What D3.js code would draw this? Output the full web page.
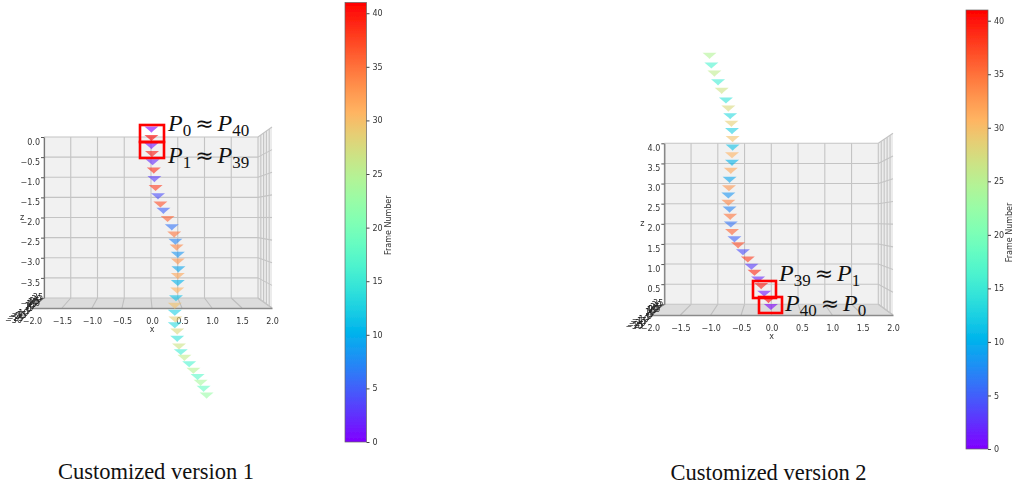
<!DOCTYPE html>
<html>
<head>
<meta charset="utf-8">
<script src="https://cdn.jsdelivr.net/npm/d3@7"></script>
<style>
body{margin:0;background:#fff;}
svg{display:block;}
text{font-family:"DejaVu Sans",sans-serif;}
.caption{font-family:"Liberation Serif",serif;font-size:22.5px;fill:#111;text-anchor:middle;}
.pLabel{font-family:"Liberation Serif",serif;font-style:italic;font-size:24px;fill:#111;}
.pLabel .op{font-family:"DejaVu Sans",sans-serif;font-style:normal;font-size:22px;}
.pLabel .sub{font-style:normal;font-size:17px;}
</style>
</head>
<body>
<div id="chart"></div>
<script>
// frame numbers and projected x / z of every camera marker
var v1Frames = [0,40,1,39,2,38,3,37,4,36,5,35,6,34,7,33,8,32,9,31,10,30,11,29,12,28,13,27,14,26,15,25,16,24,17,23,18,22];
var v1X = [-0.01,-0.01,-0.01,0,0.01,0.03,0.04,0.06,0.10,0.14,0.19,0.26,0.33,0.37,0.39,0.41,0.43,0.43,0.44,0.43,0.43,0.42,0.40,0.38,0.38,0.39,0.38,0.42,0.42,0.45,0.48,0.54,0.62,0.69,0.76,0.81,0.86,0.91];
var v1Z = [0.19,-0.02,-0.22,-0.42,-0.62,-0.83,-1.04,-1.26,-1.47,-1.67,-1.83,-2.03,-2.24,-2.42,-2.60,-2.74,-2.92,-3.09,-3.28,-3.45,-3.62,-3.81,-4.00,-4.19,-4.36,-4.53,-4.67,-4.83,-5.01,-5.20,-5.34,-5.48,-5.64,-5.80,-5.96,-6.10,-6.25,-6.42];

var v2Frames = [0,40,1,39,2,38,3,37,4,36,5,35,6,34,7,33,8,32,9,31,10,30,11,29,12,28,13,27,14,26,15,25,16,24];
var v2X = [-0.01,-0.05,-0.12,-0.17,-0.22,-0.28,-0.33,-0.39,-0.47,-0.55,-0.61,-0.65,-0.67,-0.68,-0.69,-0.71,-0.71,-0.70,-0.69,-0.67,-0.65,-0.65,-0.64,-0.64,-0.65,-0.66,-0.68,-0.71,-0.75,-0.82,-0.88,-0.94,-0.99,-1.02];
var v2Z = [-0.06,0.11,0.27,0.46,0.62,0.79,0.94,1.12,1.30,1.47,1.62,1.80,1.99,2.18,2.36,2.53,2.71,2.89,3.10,3.32,3.52,3.71,3.90,4.11,4.31,4.49,4.68,4.87,5.07,5.31,5.52,5.74,5.94,6.18];

var xTicks = [-2,-1.5,-1,-0.5,0,0.5,1,1.5,2];
var v1ZTicks = [0,-0.5,-1,-1.5,-2,-2.5,-3,-3.5,-4];
var v2ZTicks = [4,3.5,3,2.5,2,1.5,1,0.5,0];
var yPileTicks = [35,30,25,20,15,10,5,0,-5,-10,-15,-20,-25,-30];
var barTicks = [0,5,10,15,20,25,30,35,40];

var width = 1013, height = 486;

// matplotlib "rainbow" colormap
function rainbow(t){
    var r = Math.min(1, Math.abs(2 * t - 0.5));
    var g = Math.sin(Math.PI * t);
    var b = Math.cos(Math.PI * t / 2);
    return d3.rgb(r * 255, g * 255, b * 255).formatHex();
}
var color = d3.scaleSequential(rainbow).domain([0, 40]);

var svg = d3.select("#chart").append("svg")
    .attr("width", width)
    .attr("height", height);

var defs = svg.append("defs");
defs.append("filter").attr("id", "soft")
    .attr("x", "-5%").attr("y", "-5%").attr("width", "110%").attr("height", "110%")
    .append("feGaussianBlur").attr("stdDeviation", 0.55);

var grad = defs.append("linearGradient").attr("id", "rainbowBar")
    .attr("x1", 0).attr("x2", 0).attr("y1", 1).attr("y2", 0);
d3.range(0, 1.001, 0.05).forEach(function(t){
    grad.append("stop").attr("offset", t).attr("stop-color", rainbow(t));
});

// flat downward triangle, wider than tall
var markerType = {
    draw: function(context, size){
        var w = Math.sqrt(size);
        context.moveTo(-w / 2, -w * 0.2);
        context.lineTo(w / 2, -w * 0.2);
        context.lineTo(w * 0.12, w * 0.12);
        context.lineTo(0, w * 0.24);
        context.lineTo(-w * 0.12, w * 0.12);
        context.closePath();
    }
};

function drawPanel(cfg){
    var g = svg.append("g").attr("filter", "url(#soft)");

    var xBack = d3.scaleLinear().domain([-2, 2]).range([cfg.left, cfg.right]);
    var xFront = d3.scaleLinear().domain([-2, 2]).range([cfg.frontLeft, cfg.frontRight]);
    var zBack = d3.scaleLinear().domain(cfg.zDomain).range([cfg.bottom, cfg.top]);
    var zSide = d3.scaleLinear().domain(cfg.zDomain).range([cfg.front, cfg.top - 10]);
    var sideX = d3.scaleLinear().domain([0, 1]).range([cfg.right, cfg.frontRight]);

    // back wall, side wall, floor
    g.append("rect")
        .attr("x", cfg.left).attr("y", cfg.top)
        .attr("width", cfg.right - cfg.left).attr("height", cfg.bottom - cfg.top)
        .attr("fill", "#f1f1f1");
    g.append("path")
        .attr("d", d3.line()([[cfg.right, cfg.top], [cfg.frontRight, cfg.top - 10], [cfg.frontRight, cfg.front], [cfg.right, cfg.bottom]]) + "Z")
        .attr("fill", "#ececec");
    g.append("path")
        .attr("d", d3.line()([[cfg.left, cfg.bottom], [cfg.right, cfg.bottom], [cfg.frontRight, cfg.front], [cfg.frontLeft, cfg.front]]) + "Z")
        .attr("fill", "#dcdcdc");

    var grid = g.append("g").attr("stroke", "#c4c4c4").attr("stroke-width", 1.1).attr("fill", "none");
    xTicks.forEach(function(d){
        grid.append("line").attr("x1", xBack(d)).attr("x2", xBack(d)).attr("y1", cfg.top).attr("y2", cfg.bottom);
        grid.append("line").attr("x1", xBack(d)).attr("x2", xFront(d)).attr("y1", cfg.bottom).attr("y2", cfg.front).attr("stroke", "#bdbdbd");
    });
    cfg.zTicks.forEach(function(d){
        grid.append("line").attr("x1", cfg.left).attr("x2", cfg.right).attr("y1", zBack(d)).attr("y2", zBack(d));
        grid.append("line").attr("x1", cfg.right).attr("x2", cfg.frontRight).attr("y1", zBack(d)).attr("y2", zSide(d));
    });
    d3.range(0.2, 1, 0.2).forEach(function(t){
        var sx = sideX(t);
        grid.append("line").attr("x1", sx).attr("x2", sx)
            .attr("y1", cfg.top - 10 * t).attr("y2", cfg.bottom + (cfg.front - cfg.bottom) * t);
    });

    // x axis on the front edge
    var xAxis = g.append("g")
        .attr("transform", "translate(0," + cfg.front + ")")
        .call(d3.axisBottom(xFront).tickValues(xTicks).tickSize(0).tickPadding(10).tickFormat(d3.format(".1f")));
    xAxis.select(".domain").attr("stroke", "#8a8a8a").attr("stroke-width", 1.6);
    xAxis.selectAll("text").style("font-size", "8px").style("font-family", "DejaVu Sans").attr("fill", "#333");

    // z axis on the back wall
    var zAxis = g.append("g")
        .attr("transform", "translate(" + cfg.left + ",0)")
        .call(d3.axisLeft(zBack).tickValues(cfg.zTicks).tickSize(3).tickSizeOuter(0).tickPadding(1).tickFormat(d3.format(".1f")));
    zAxis.select(".domain").attr("stroke", "#777").attr("stroke-width", 1.2);
    zAxis.selectAll("line").attr("stroke", "#555");
    zAxis.selectAll("text").attr("dy", "0.9em").style("font-size", "8px").style("font-family", "DejaVu Sans").attr("fill", "#333");

    // y axis collapses to a diagonal, its labels pile on top of each other
    g.append("line")
        .attr("x1", cfg.left).attr("y1", cfg.bottom)
        .attr("x2", cfg.frontLeft).attr("y2", cfg.front)
        .attr("stroke", "#777");
    var yEndX = d3.scaleLinear().domain([35, -30]).range([cfg.left - 1, cfg.left - 22]);
    var yEndY = d3.scaleLinear().domain([35, -30]).range([cfg.bottom + 2, cfg.bottom + 25]);
    g.append("g").selectAll("text")
        .data(yPileTicks)
        .enter().append("text")
        .attr("x", function(d){ return yEndX(d); })
        .attr("y", function(d){ return yEndY(d); })
        .attr("text-anchor", "end")
        .style("font-size", "8px")
        .attr("fill", "#222")
        .text(function(d){ return d3.format("d")(d); });

    g.append("text").attr("x", cfg.left - 22).attr("y", (cfg.top + cfg.bottom) / 2 + 2)
        .attr("text-anchor", "middle").style("font-size", "8px").attr("fill", "#333").text("z");
    g.append("text").attr("x", xFront(0)).attr("y", cfg.front + 24)
        .attr("text-anchor", "middle").style("font-size", "8px").attr("fill", "#333").text("x");

    // camera markers
    var symbol = d3.symbol().type(markerType).size(196);
    g.append("g").selectAll("path")
        .data(cfg.frames)
        .enter().append("path")
        .attr("d", symbol)
        .attr("transform", function(d, i){
            return "translate(" + xFront(cfg.xs[i]) + "," + zBack(cfg.zs[i]) + ")";
        })
        .attr("fill", function(d){ return color(d); })
        .attr("opacity", 0.6);

    // colorbar
    var barScale = d3.scaleLinear().domain([0, 41]).range([cfg.barBottom, cfg.barTop]);
    var bar = svg.append("g").attr("filter", "url(#soft)");
    bar.append("rect")
        .attr("x", cfg.barX).attr("y", cfg.barTop)
        .attr("width", cfg.barW).attr("height", cfg.barBottom - cfg.barTop)
        .attr("fill", "url(#rainbowBar)")
        .attr("stroke", "#666").attr("stroke-width", 0.7);
    var barAxis = bar.append("g")
        .attr("transform", "translate(" + (cfg.barX + cfg.barW) + ",0)")
        .call(d3.axisRight(barScale).tickValues(barTicks).tickSize(3).tickPadding(3));
    barAxis.select(".domain").remove();
    barAxis.selectAll("line").attr("stroke", "#444");
    barAxis.selectAll("text").style("font-size", "8px").style("font-family", "DejaVu Sans").attr("fill", "#333");
    bar.append("text")
        .attr("transform", "translate(" + (cfg.barX + cfg.barW + 24) + "," + ((cfg.barTop + cfg.barBottom) / 2 + 3) + ") rotate(-90)")
        .attr("text-anchor", "middle")
        .style("font-size", "8px").attr("fill", "#333")
        .text("Frame Number");
}

function redBox(x, y, w, h){
    svg.append("rect").attr("x", x).attr("y", y).attr("width", w).attr("height", h)
        .attr("fill", "none").attr("stroke", "#f00").attr("stroke-width", 2.6);
}

function pLabel(x, y, a, b){
    var t = svg.append("text").attr("class", "pLabel").attr("x", x).attr("y", y);
    t.append("tspan").text("P");
    t.append("tspan").attr("class", "sub").attr("dy", 5).text(a);
    t.append("tspan").attr("class", "op").attr("dy", -5).attr("dx", 4).text("\u2248");
    t.append("tspan").attr("dx", 4).text("P");
    t.append("tspan").attr("class", "sub").attr("dy", 5).text(b);
}

drawPanel({
    frames: v1Frames, xs: v1X, zs: v1Z,
    zDomain: [-4, 0], zTicks: v1ZTicks,
    left: 44, right: 258, top: 137, bottom: 298, front: 308,
    frontLeft: 32, frontRight: 272,
    barX: 345, barW: 21.5, barTop: 2.5, barBottom: 442
});
drawPanel({
    frames: v2Frames, xs: v2X, zs: v2Z,
    zDomain: [0, 4], zTicks: v2ZTicks,
    left: 664.3, right: 878.3, top: 143.3, bottom: 304.3, front: 315,
    frontLeft: 650, frontRight: 893,
    barX: 966, barW: 22, barTop: 10, barBottom: 449
});

redBox(140, 125, 24, 17);
redBox(140, 142, 24, 16);
redBox(753, 281, 23, 17);
redBox(759, 297, 23, 16);

pLabel(168, 131, "0", "40");
pLabel(168, 163, "1", "39");
pLabel(779, 281, "39", "1");
pLabel(785, 311, "40", "0");

svg.append("text").attr("class", "caption").attr("x", 156).attr("y", 479).text("Customized version 1");
svg.append("text").attr("class", "caption").attr("x", 768.5).attr("y", 480).text("Customized version 2");
</script>
</body>
</html>
